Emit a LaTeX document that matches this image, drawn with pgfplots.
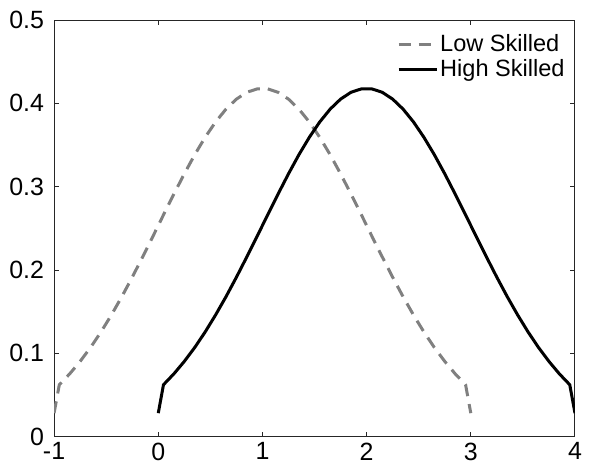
\documentclass[border=0pt]{standalone}
\usepackage{pgfplots}
\pgfplotsset{compat=1.18}
\usepackage{fontspec}
\setmainfont{Liberation Sans}

\definecolor{lowgray}{RGB}{128,128,128}

\begin{document}
\begin{tikzpicture}
\useasboundingbox (-27bp,-16.5bp) rectangle (267bp,218bp);
\begin{axis}[
    scale only axis,
    width=260bp, height=208bp,
    xmin=-1, xmax=4,
    ymin=0, ymax=0.5,
    xtick={-1,0,1,2,3,4},
    ytick={0,0.1,0.2,0.3,0.4,0.5},
    yticklabels={0,0.1,0.2,0.3,0.4,0.5},
    tick align=inside,
    major tick length=2.5bp,
    axis line style={line width=0.5bp, color=black!85},
    tick style={line width=0.5bp, color=black!85},
    /pgf/number format/assume math mode=true,
    tick label style={font=\fontsize{12.5}{14}\selectfont},
    yticklabel style={xshift=-1.5bp},
    xticklabel style={yshift=0.5bp},
    legend cell align=left,
    legend style={at={(1,1)}, anchor=north east, xshift=-4bp, yshift=-6bp,
        draw=none, fill=none, inner sep=0pt, row sep=0.5bp,
        font=\fontsize{11.8}{13}\selectfont,
        nodes={inner sep=1bp}},
    legend image code/.code={\draw[#1] (0bp,0bp) -- (19bp,0bp);},
]
\addplot[color=lowgray, line width=1.5bp, dash pattern=on 6bp off 4bp] coordinates {
(-1,0.0283)(-0.95,0.0624)(-0.85,0.0755)(-0.75,0.0904)(-0.65,0.1071)(-0.55,0.1257)
(-0.45,0.1461)(-0.35,0.1680)(-0.25,0.1914)(-0.15,0.2158)(-0.05,0.2408)
(0.05,0.2662)(0.15,0.2912)(0.25,0.3155)(0.35,0.3384)(0.45,0.3593)
(0.55,0.3777)(0.65,0.3931)(0.75,0.4051)(0.85,0.4133)(0.95,0.4174)
(1.05,0.4174)(1.15,0.4133)(1.25,0.4051)(1.35,0.3931)(1.45,0.3777)
(1.55,0.3593)(1.65,0.3384)(1.75,0.3155)(1.85,0.2912)(1.95,0.2662)
(2.05,0.2408)(2.15,0.2158)(2.25,0.1914)(2.35,0.1680)(2.45,0.1461)
(2.55,0.1257)(2.65,0.1071)(2.75,0.0904)(2.85,0.0755)(2.95,0.0624)(3,0.0283)
};
\addlegendentry{Low Skilled}
\addplot[color=black, line width=1.5bp] coordinates {
(0,0.0283)(0.05,0.0624)(0.15,0.0755)(0.25,0.0904)(0.35,0.1071)(0.45,0.1257)
(0.55,0.1461)(0.65,0.1680)(0.75,0.1914)(0.85,0.2158)(0.95,0.2408)
(1.05,0.2662)(1.15,0.2912)(1.25,0.3155)(1.35,0.3384)(1.45,0.3593)
(1.55,0.3777)(1.65,0.3931)(1.75,0.4051)(1.85,0.4133)(1.95,0.4174)
(2.05,0.4174)(2.15,0.4133)(2.25,0.4051)(2.35,0.3931)(2.45,0.3777)
(2.55,0.3593)(2.65,0.3384)(2.75,0.3155)(2.85,0.2912)(2.95,0.2662)
(3.05,0.2408)(3.15,0.2158)(3.25,0.1914)(3.35,0.1680)(3.45,0.1461)
(3.55,0.1257)(3.65,0.1071)(3.75,0.0904)(3.85,0.0755)(3.95,0.0624)(4,0.0283)
};
\addlegendentry{High Skilled}
\end{axis}
\end{tikzpicture}
\end{document}
